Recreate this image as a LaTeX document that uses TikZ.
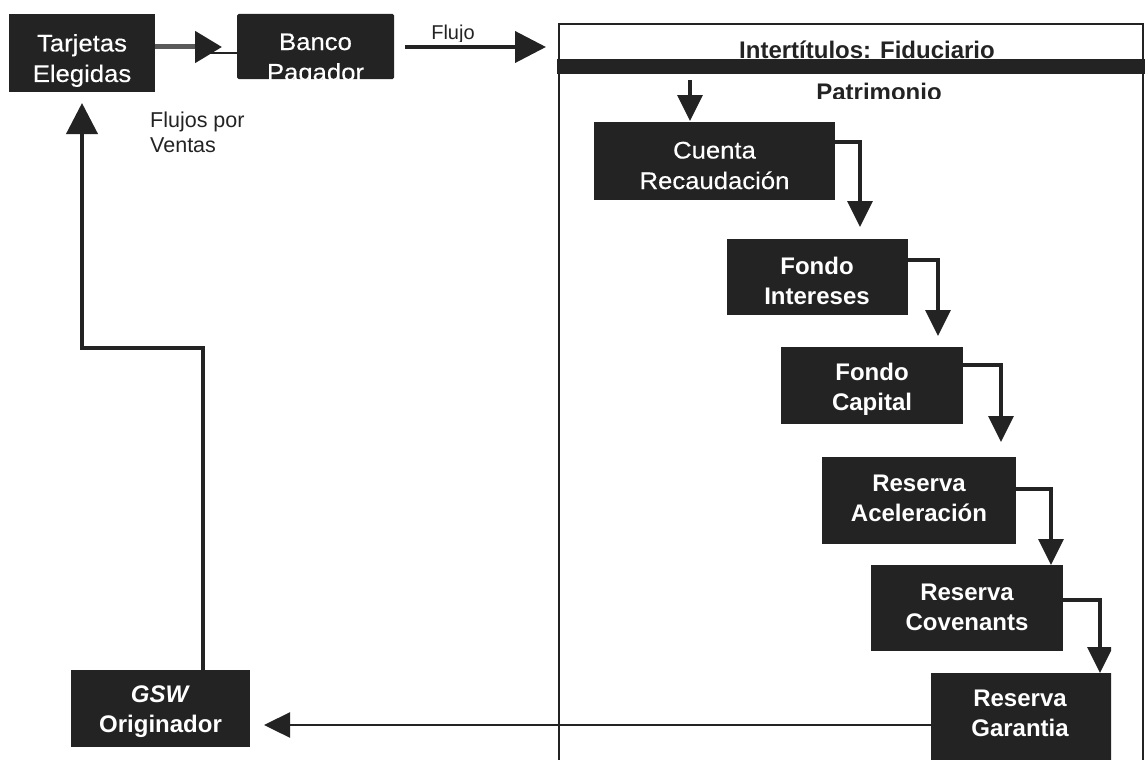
\documentclass[tikz,border=0pt]{standalone}
\usepackage{fontspec}
\setmainfont{Liberation Sans}
\newfontfamily\bigface[FakeStretch=1.07,FakeBold=0.4]{Liberation Sans}
\usetikzlibrary{arrows.meta}
\definecolor{ink}{HTML}{232323}
\tikzset{
  boxfill/.style={fill=ink,draw=none,inner sep=0pt},
  txt/.style={text=white,align=center,inner sep=0pt},
  bigtxt/.style={txt,font=\bigface\fontsize{24}{30.5}\selectfont},
  restxt/.style={txt,font=\bfseries\fontsize{24}{30}\selectfont},
  conn/.style={draw=ink,line width=3.4pt,-{Triangle[length=26pt,width=25pt]}},
  thickconn/.style={draw=ink,line width=4pt,-{Triangle[length=31pt,width=31pt]}},
  frameline/.style={draw=ink,line width=1.4pt},
  small/.style={text=ink,align=left,font=\fontsize{21.5}{25}\selectfont,inner sep=0pt},
  heading/.style={text=ink,font=\bfseries\fontsize{24}{28}\selectfont,inner sep=0pt,anchor=base}
}
% [text style]{name}{x0}{y0}{x1}{y1}{text centre x}{text centre y}{text}
\newcommand{\bx}[9][bigtxt]{%
  \node[boxfill,minimum width=#5pt-#3pt,minimum height=#6pt-#4pt] (#2) at ({(#3+#5)/2},{(#4+#6)/2}) {};
  \node[#1] (#2t) at (#7,#8) {#9};}
\begin{document}
\begin{tikzpicture}[x=1pt,y=-1pt]
\useasboundingbox (0,0) rectangle (1145,760);
% frame
\coordinate (fbl) at (559,760);
\coordinate (ftl) at (559,24);
\coordinate (ftr) at (1143,24);
\coordinate (fbr) at (1143,760);
\draw[frameline] (fbl) -- (ftl) -- (ftr) -- (fbr);
\node[boxfill,minimum width=588pt,minimum height=15pt] (bar) at (851,66.5) {};
\node[heading] (title) at (867,59) {Intertítulos: Fiduciario};
\begin{scope}
\clip (700,75) rectangle (1100,98);
\node[heading] (patr) at (879,100) {Patrimonio};
\end{scope}
% boxes
\bx{tarj}{9}{14}{155}{92}{82}{60.5}{Tarjetas\\Elegidas}
\node[boxfill,minimum width=157pt,minimum height=65pt,rounded corners=1.5pt] (banco) at (315.5,46.5) {};
\node[bigtxt] (bancot) at (315.5,59.5) {Banco\\Pagador};
\bx{cuenta}{594}{122}{835}{200}{714.5}{165.5}{Cuenta\\Recaudación}
\bx[restxt]{fint}{727}{239}{908}{315}{817}{281}{Fondo\\Intereses}
\bx[restxt]{fcap}{781}{347}{963}{424}{872}{389}{Fondo\\Capital}
\bx[restxt]{racel}{822}{457}{1016}{544}{919}{498.5}{Reserva\\Aceleración}
\bx[restxt]{rcov}{871}{565}{1063}{651}{967}{607}{Reserva\\Covenants}
\bx[restxt]{gsw}{71}{670}{250}{747}{160.5}{712}{\textit{GSW}\\Originador}
% clipped right side
\begin{scope}
\clip (0,0) rectangle (1111,760);
\bx[restxt]{rgar}{931}{673}{1180}{760}{1020}{713.5}{Reserva\\Garantia}
\coordinate (t5) at (1100,673);
\draw[conn] (rcov.east |- 0,600) -| (t5);
\end{scope}
% connectors
\coordinate (t0) at (690,121);
\coordinate (s0) at (690,80);
\draw[conn] (s0) -- (t0);
\coordinate (t1) at (860,227);
\draw[conn] (cuenta.east |- 0,142) -| (t1);
\coordinate (t2) at (938,336);
\draw[conn] (fint.east |- 0,260) -| (t2);
\coordinate (t3) at (1001,442);
\draw[conn] (fcap.east |- 0,365) -| (t3);
\coordinate (t4) at (1051,565);
\draw[conn] (racel.east |- 0,489) -| (t4);
% top row
\coordinate (a1) at (222,47);
\draw[draw=ink!75,line width=5pt,-{Triangle[length=27pt,width=31pt,color=ink]}] (tarj.east |- 0,47) -- (a1);
\coordinate (a1b) at (205,53);
\draw[draw=ink,line width=1.5pt] (a1b) -- (banco.west |- a1b);
\coordinate (a2) at (546,47);
\coordinate (a2s) at (405,47);
\draw[thickconn] (a2s) -- (a2);
\begin{scope}
\clip (420,20) rectangle (490,42);
\node[text=ink,font=\fontsize{20}{24}\selectfont,inner sep=0pt,anchor=base] (flujo) at (453,40) {Flujo};
\end{scope}
\node[small,anchor=north west] (ventas) at (150,111.5) {Flujos por\\Ventas};
% return path
\coordinate (up) at (82,103);
\coordinate (mid1) at (82,348);
\coordinate (mid2) at (203,348);
\draw[thickconn] (gsw.north -| mid2) -- (mid2) -- (mid1) -- (up);
\coordinate (gtip) at (264,725);
\draw[draw=ink,line width=2.4pt,-{Triangle[length=26pt,width=25pt]}] (rgar.west |- gtip) -- (gtip);
\end{tikzpicture}
\end{document}
